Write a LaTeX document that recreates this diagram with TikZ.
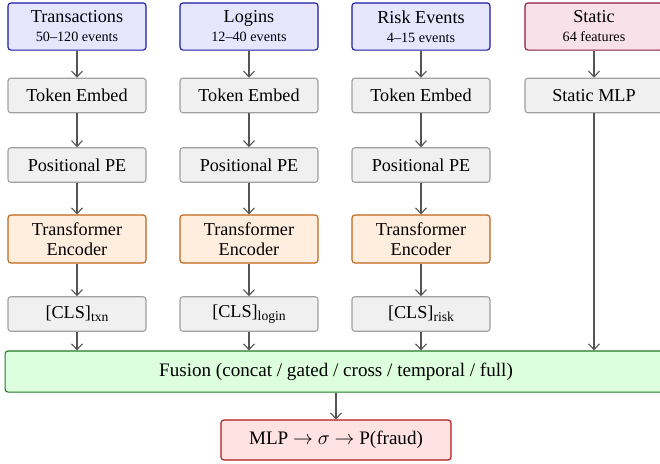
\documentclass[tikz,border=0pt]{standalone}
\usepackage{fontspec}
\setmainfont{Liberation Serif}
\usetikzlibrary{arrows.meta}
\definecolor{inblue}{HTML}{E6E6FF}
\definecolor{inbluedraw}{HTML}{1A1AA0}
\definecolor{stfill}{HTML}{F8E1E8}
\definecolor{stdraw}{HTML}{8C1A3C}
\definecolor{gfill}{HTML}{F0F0F0}
\definecolor{gdraw}{HTML}{A0A0A0}
\definecolor{ofill}{HTML}{FFEEDD}
\definecolor{odraw}{HTML}{C0651A}
\definecolor{ffill}{HTML}{DDFFDD}
\definecolor{fdraw}{HTML}{1F7A1F}
\definecolor{mfill}{HTML}{FFE2E2}
\definecolor{mdraw}{HTML}{B01A1A}
\definecolor{arr}{HTML}{555555}
\tikzset{
  x=0.55pt, y=-0.55pt,
  base/.style={rectangle, rounded corners=1.6pt, line width=0.6pt, align=center, inner sep=0pt, font=\fontsize{10}{11}\selectfont},
  inbox/.style={base, fill=inblue, draw=inbluedraw, minimum width=75.9pt, minimum height=25.9pt},
  stbox/.style={base, fill=stfill, draw=stdraw, minimum width=75.9pt, minimum height=25.9pt},
  gbox/.style={base, fill=gfill, draw=gdraw, minimum width=75.9pt, minimum height=19pt},
  tbox/.style={base, fill=ofill, draw=odraw, minimum width=75.9pt, minimum height=26.4pt},
  fbox/.style={base, fill=ffill, draw=fdraw, minimum width=364pt, minimum height=22.6pt, font=\fontsize{10.5}{12}\selectfont},
  mbox/.style={base, fill=mfill, draw=mdraw, minimum width=126.5pt, minimum height=22pt, font=\fontsize{10.5}{12}\selectfont},
  conn/.style={draw=arr, line width=0.6pt, -{Straight Barb[length=3.2pt,width=6pt]}}
}
\newcommand{\subl}[1]{{\fontsize{7.8}{8.5}\selectfont #1}}
\newcommand{\subs}[1]{{\fontsize{7.5}{8}\selectfont #1}}
\begin{document}
\begin{tikzpicture}
\useasboundingbox (0,0) rectangle (660,464);
% inputs
\node[inbox] (in1) at (77,26.5) {Transactions\\[-0.5pt]\subl{50--120 events}};
\node[inbox] (in2) at (249,26.5) {Logins\\[-0.5pt]\subl{12--40 events}};
\node[inbox] (in3) at (421,26.5) {Risk Events\\[-0.5pt]\subl{4--15 events}};
\node[stbox] (in4) at (594,26.5) {Static\\[-0.5pt]\subl{64 features}};
% token embed
\node[gbox] (te1) at (77,95.5) {Token Embed};
\node[gbox] (te2) at (249,95.5) {Token Embed};
\node[gbox] (te3) at (421,95.5) {Token Embed};
\node[gbox] (smlp) at (594,95.5) {Static MLP};
% positional
\node[gbox] (pe1) at (77,165) {Positional PE};
\node[gbox] (pe2) at (249,165) {Positional PE};
\node[gbox] (pe3) at (421,165) {Positional PE};
% transformer
\node[tbox] (tr1) at (77,239) {Transformer\\Encoder};
\node[tbox] (tr2) at (249,239) {Transformer\\Encoder};
\node[tbox] (tr3) at (421,239) {Transformer\\Encoder};
% cls
\node[gbox] (c1) at (77,314) {[CLS]\raisebox{-0.35ex}{\subs{txn}}};
\node[gbox] (c2) at (249,314) {[CLS]\raisebox{-0.35ex}{\subs{login}}};
\node[gbox] (c3) at (421,314) {[CLS]\raisebox{-0.35ex}{\subs{risk}}};
% fusion
\node[fbox] (fu) at (336,371.5) {Fusion (concat / gated / cross / temporal / full)};
% mlp
\node[mbox] (mlp) at (336,440) {MLP $\rightarrow$ $\sigma$ $\rightarrow$ P(fraud)};
% connectors
\foreach \i in {1,2,3}{
  \draw[conn] (in\i) -- (te\i);
  \draw[conn] (te\i) -- (pe\i);
  \draw[conn] (pe\i) -- (tr\i);
  \draw[conn] (tr\i) -- (c\i);
  \draw[conn] (c\i.south) -- (c\i.south |- fu.north);
}
\draw[conn] (in4) -- (smlp);
\draw[conn] (smlp.south) -- (smlp.south |- fu.north);
\draw[conn] (fu) -- (mlp);
\end{tikzpicture}
\end{document}
